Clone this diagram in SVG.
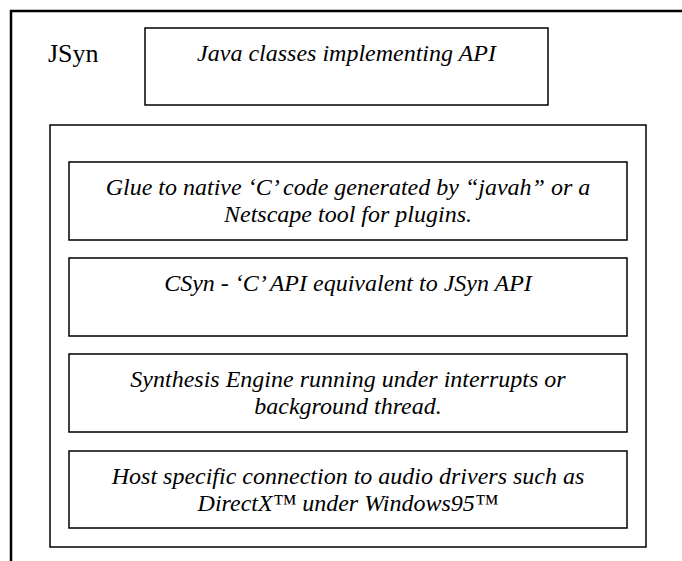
<svg xmlns="http://www.w3.org/2000/svg" width="682" height="561" viewBox="0 0 682 561">
<style>
.box{fill:#fff;stroke:#000;stroke-width:1.5}
.t{font-family:'Liberation Serif','Times New Roman',Tinos,'DejaVu Serif',serif;font-style:italic;font-size:24px;fill:#000;text-anchor:middle}
.lbl{font-family:'Liberation Serif','Times New Roman',Tinos,'DejaVu Serif',serif;font-size:26px;fill:#000}
</style>
<rect width="682" height="561" fill="#fff"/>
<g id="jsyn-outer">
<path d="M11,561 V11 H682" fill="none" stroke="#000" stroke-width="2.5"/>
<text class="lbl" x="48" y="62">JSyn</text>
</g>
<g id="java-classes">
<rect class="box" x="145" y="28" width="403" height="77"/>
<text class="t" x="346.5" y="61">Java classes implementing API</text>
</g>
<g id="native-container">
<rect class="box" x="50" y="125" width="596" height="422"/>
</g>
<g id="glue">
<rect class="box" x="69" y="162" width="558" height="78"/>
<text class="t" x="348" y="195">Glue to native ‘C’ code generated by “javah” or a</text>
<text class="t" x="348" y="222">Netscape tool for plugins.</text>
</g>
<g id="csyn">
<rect class="box" x="69" y="258" width="558" height="78"/>
<text class="t" x="348" y="291">CSyn - ‘C’ API equivalent to JSyn API</text>
</g>
<g id="engine">
<rect class="box" x="69" y="354" width="558" height="78"/>
<text class="t" x="348" y="387">Synthesis Engine running under interrupts or</text>
<text class="t" x="348" y="414">background thread.</text>
</g>
<g id="host">
<rect class="box" x="69" y="451" width="558" height="77"/>
<text class="t" x="348" y="484">Host specific connection to audio drivers such as</text>
<text class="t" x="348" y="511">DirectX™ under Windows95™</text>
</g>
<g id="connectors"></g>
</svg>
